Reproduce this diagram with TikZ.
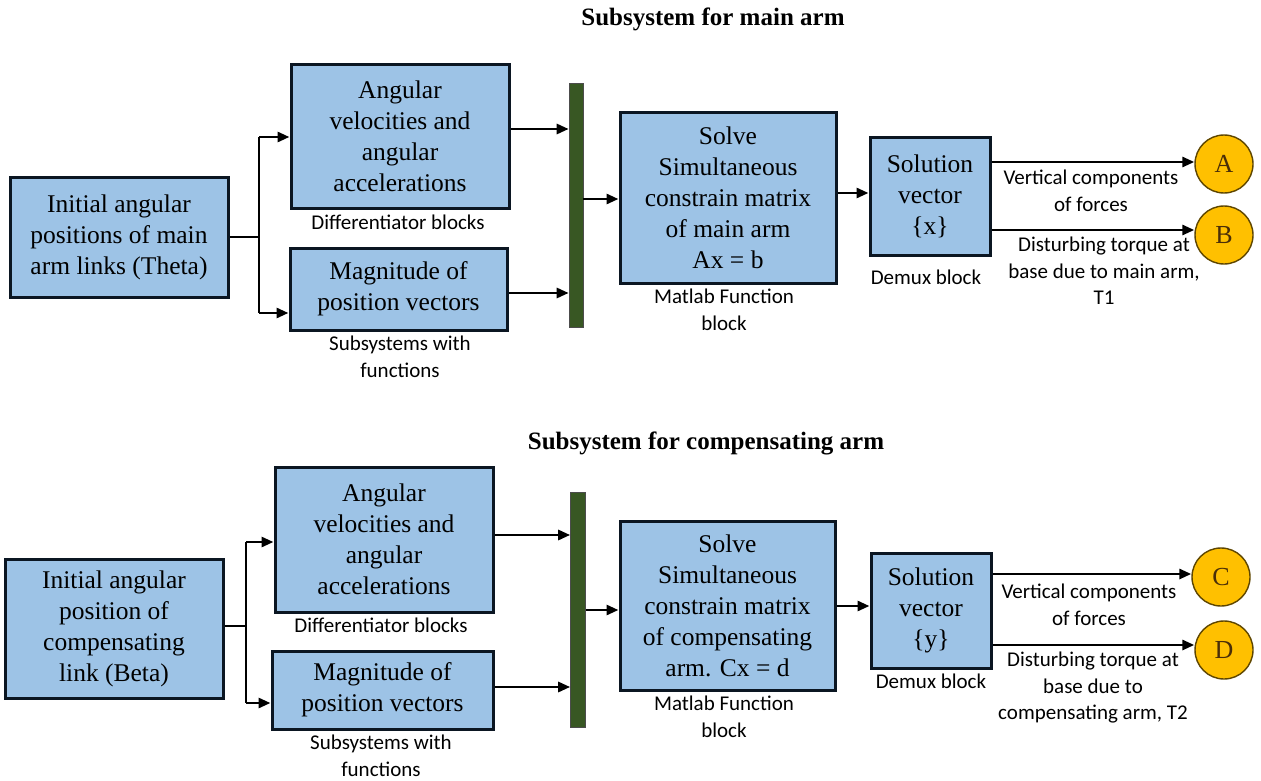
\documentclass[tikz,border=0pt]{standalone}
\usepackage{fontspec}
\setmainfont{Liberation Serif}
\newfontfamily\lblfont{Carlito}
\usetikzlibrary{arrows.meta,calc}
\definecolor{boxfill}{HTML}{9DC3E6}
\definecolor{boxline}{HTML}{0B1622}
\definecolor{bargreen}{HTML}{385723}
\definecolor{gold}{HTML}{FFC000}
\definecolor{goldline}{HTML}{5E4600}
\definecolor{lettercol}{HTML}{4A2E08}
\tikzset{
  blockbox/.style={draw=boxline, fill=boxfill, line width=3pt, inner sep=0pt, align=center,
    font=\fontsize{25.5}{31}\selectfont},
  barbox/.style={draw=black!70, fill=bargreen, line width=0.6pt, inner sep=0pt},
  outcircle/.style={circle, draw=goldline, fill=gold, line width=1.4pt, minimum size=58pt, inner sep=0pt,
    text=lettercol, font=\fontsize{26}{30}\selectfont},
  lbl/.style={inner sep=0pt, align=center, font=\lblfont\fontsize{21}{26.5}\selectfont},
  ttl/.style={inner sep=0pt, font=\bfseries\fontsize{25}{28}\selectfont},
  wire/.style={line width=2.8pt, draw=black},
  arr/.style={wire, -{Triangle[length=12pt,width=10pt]}},
}
\begin{document}
\begin{tikzpicture}[x=1pt,y=-1pt]
\useasboundingbox (0,0) rectangle (1261,781);
\fill[white] (0,0) rectangle (1261,781);

% ---------------- Top: main arm ----------------
\node[ttl] (t1) at (713,19) {Subsystem for main arm};

\node[blockbox, minimum width=218pt, minimum height=120pt] (init1) at (119,237)
  {Initial angular\\positions of main\\arm links (Theta)};
\node[blockbox, minimum width=218pt, minimum height=143pt] (ang1) at (400,136.5)
  {Angular\\velocities and\\angular\\accelerations};
\node[blockbox, minimum width=217pt, minimum height=82pt] (mag1) at (398.5,289)
  {Magnitude of\\position vectors};
\node[barbox, minimum width=14pt, minimum height=244pt] (bar1) at (576,205) {};
\node[blockbox, minimum width=216pt, minimum height=170pt] (solve1) at (728,198)
  {Solve\\Simultaneous\\constrain matrix\\of main arm\\Ax = b};
\node[blockbox, minimum width=120pt, minimum height=117pt] (sol1) at (930,196.5)
  {Solution\\vector\\\{x\}};
\node[outcircle] (A) at (1224,164) {A};
\node[outcircle] (B) at (1224,235) {B};

\node[lbl] (l1a) at (398,222) {Differentiator blocks};
\node[lbl] (l1b) at (400,357) {Subsystems with\\functions};
\node[lbl] (l1c) at (724,310) {Matlab Function\\block};
\node[lbl] (l1d) at (926,277) {Demux block};
\node[lbl] (l1e) at (1091,191) {Vertical components\\of forces};
\node[lbl] (l1f) at (1104,271) {Disturbing torque at\\base due to main arm,\\T1};

\coordinate (j1t) at (259,137);
\coordinate (j1b) at (259,313);
\draw[wire] (j1t) -- (j1b);
\draw[wire] (init1.east) -- (init1.east -| j1t);
\draw[arr] (j1t) -- (j1t -| ang1.west);
\draw[arr] (j1b) -- (j1b -| mag1.west);
\draw[arr] (ang1.east |- 0,129) -- (bar1.west |- 0,129);
\draw[arr] (mag1.east |- 0,293) -- (bar1.west |- 0,293);
\draw[arr] (bar1.east |- 0,199) -- (solve1.west |- 0,199);
\draw[arr] (solve1.east |- 0,193) -- (sol1.west |- 0,193);
\draw[arr] (sol1.east |- 0,162) -- (A.west |- 0,162);
\draw[arr] (sol1.east |- 0,230) -- (B.west |- 0,230);

% ---------------- Bottom: compensating arm ----------------
\node[ttl] (t2) at (706,443) {Subsystem for compensating arm};

\node[blockbox, minimum width=218pt, minimum height=139pt] (init2) at (114,628.5)
  {Initial angular\\position of\\compensating\\link (Beta)};
\node[blockbox, minimum width=218pt, minimum height=145pt] (ang2) at (384,539.5)
  {Angular\\velocities and\\angular\\accelerations};
\node[blockbox, minimum width=221pt, minimum height=78pt] (mag2) at (382.5,690)
  {Magnitude of\\position vectors};
\node[barbox, minimum width=15pt, minimum height=235pt] (bar2) at (578,609.5) {};
\node[blockbox, minimum width=215pt, minimum height=169pt] (solve2) at (727.5,605.5)
  {Solve\\Simultaneous\\constrain matrix\\of compensating\\arm. Cx = d};
\node[blockbox, minimum width=120pt, minimum height=115pt] (sol2) at (931,610.5)
  {Solution\\vector\\\{y\}};
\node[outcircle] (C) at (1221,577) {C};
\node[outcircle] (D) at (1224,650) {D};

\node[lbl] (l2a) at (381,625) {Differentiator blocks};
\node[lbl] (l2b) at (381,756) {Subsystems with\\functions};
\node[lbl] (l2c) at (724,717) {Matlab Function\\block};
\node[lbl] (l2d) at (931,681) {Demux block};
\node[lbl] (l2e) at (1089,605) {Vertical components\\of forces};
\node[lbl] (l2f) at (1093,688) {Disturbing torque at\\base due to\\compensating arm, T2};

\coordinate (j2t) at (246,542);
\coordinate (j2b) at (246,703);
\draw[wire] (j2t) -- (j2b);
\draw[wire] (init2.east |- 0,626) -- (j2t |- 0,626);
\draw[arr] (j2t) -- (j2t -| ang2.west);
\draw[arr] (j2b) -- (j2b -| mag2.west);
\draw[arr] (ang2.east |- 0,535) -- (bar2.west |- 0,535);
\draw[arr] (mag2.east |- 0,687) -- (bar2.west |- 0,687);
\draw[arr] (bar2.east |- 0,610) -- (solve2.west |- 0,610);
\draw[arr] (solve2.east |- 0,606) -- (sol2.west |- 0,606);
\draw[arr] (sol2.east |- 0,574) -- (C.west |- 0,574);
\draw[arr] (sol2.east |- 0,645) -- (D.west |- 0,645);
\end{tikzpicture}
\end{document}
